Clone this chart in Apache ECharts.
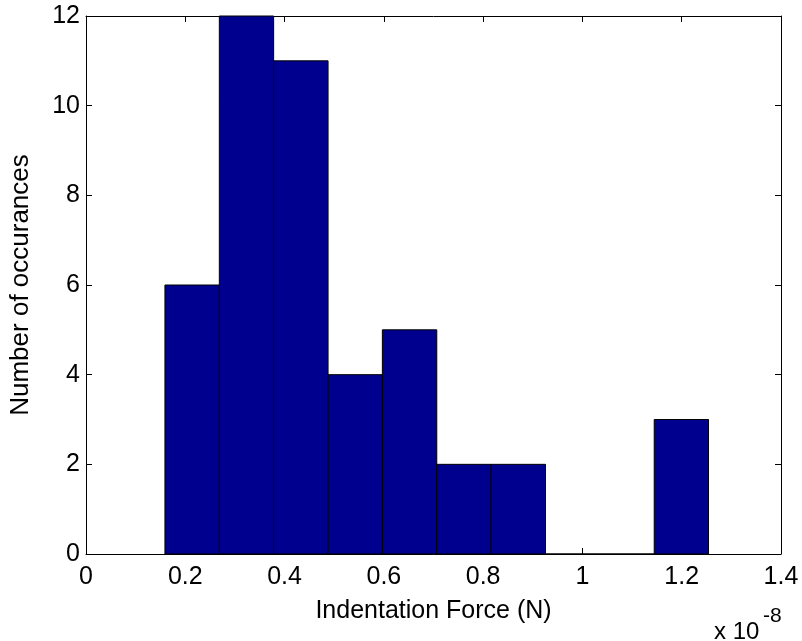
<!DOCTYPE html>
<html>
<head>
<meta charset="utf-8">
<script src="https://cdn.jsdelivr.net/npm/echarts@6/dist/echarts.min.js"></script>
<style>
  html, body { margin: 0; padding: 0; background: #fff; }
  #chart { width: 802px; height: 641px; }
</style>
</head>
<body>
<div id="chart"></div>
<script>
// histogram bin edges (x 10^-8 N) and counts per bin
const binEdges = [0.159, 0.2686, 0.378, 0.4876, 0.597, 0.7066, 0.816, 0.9256, 1.035, 1.1446, 1.254]
const counts = [6, 12, 11, 4, 5, 2, 2, 0, 0, 3]
const xTicks = [0, 1.4, 0.2] // min, max, step
const yTicks = [0, 12, 2]

const font = 'Liberation Sans, Arial, sans-serif'
const bins = counts.map((c, i) => [binEdges[i], binEdges[i + 1], c])

const chart = echarts.init(document.getElementById('chart'))

const tick = { show: true, inside: true, length: 6, lineStyle: { color: '#000', width: 1 } }
const line = { show: true, onZero: false, lineStyle: { color: '#000', width: 1 } }

chart.setOption({
  animation: false,
  backgroundColor: '#fff',
  grid: { left: 86, right: 21, top: 16, bottom: 87 },
  xAxis: [
    {
      type: 'value', min: xTicks[0], max: xTicks[1], interval: xTicks[2],
      axisLine: line, axisTick: tick, splitLine: { show: false },
      axisLabel: { color: '#000', fontSize: 25, fontFamily: font, margin: 11 },
      name: 'Indentation Force (N)', nameLocation: 'middle', nameGap: 45,
      nameTextStyle: { color: '#000', fontSize: 25, fontFamily: font },
    },
    {
      type: 'value', position: 'top', min: xTicks[0], max: xTicks[1], interval: xTicks[2],
      axisLine: line, axisTick: tick, axisLabel: { show: false }, splitLine: { show: false },
    },
  ],
  yAxis: [
    {
      type: 'value', min: yTicks[0], max: yTicks[1], interval: yTicks[2],
      axisLine: line, axisTick: tick, splitLine: { show: false },
      axisLabel: { color: '#000', fontSize: 25, fontFamily: font, margin: 6 },
      name: 'Number of occurances', nameLocation: 'middle', nameGap: 52,
      nameTextStyle: { color: '#000', fontSize: 26, fontFamily: font },
    },
    {
      type: 'value', position: 'right', min: yTicks[0], max: yTicks[1], interval: yTicks[2],
      axisLine: line, axisTick: tick, axisLabel: { show: false }, splitLine: { show: false },
    },
  ],
  graphic: [
    { type: 'text', left: 714, top: 620, style: { text: 'x 10', fill: '#000', fontSize: 24, fontFamily: font } },
    { type: 'text', left: 763, top: 606, style: { text: '-8', fill: '#000', fontSize: 21, fontFamily: font } },
  ],
  series: [
    {
      type: 'custom',
      data: bins,
      encode: { x: [0, 1], y: 2 },
      renderItem(params, api) {
        const p0 = api.coord([api.value(0), api.value(2)])
        const p1 = api.coord([api.value(1), 0])
        return {
          type: 'rect',
          shape: { x: p0[0], y: p0[1], width: p1[0] - p0[0], height: p1[1] - p0[1] },
          style: { fill: '#00008f', stroke: '#000', lineWidth: 1 },
        }
      },
    },
  ],
})
</script>
</body>
</html>
